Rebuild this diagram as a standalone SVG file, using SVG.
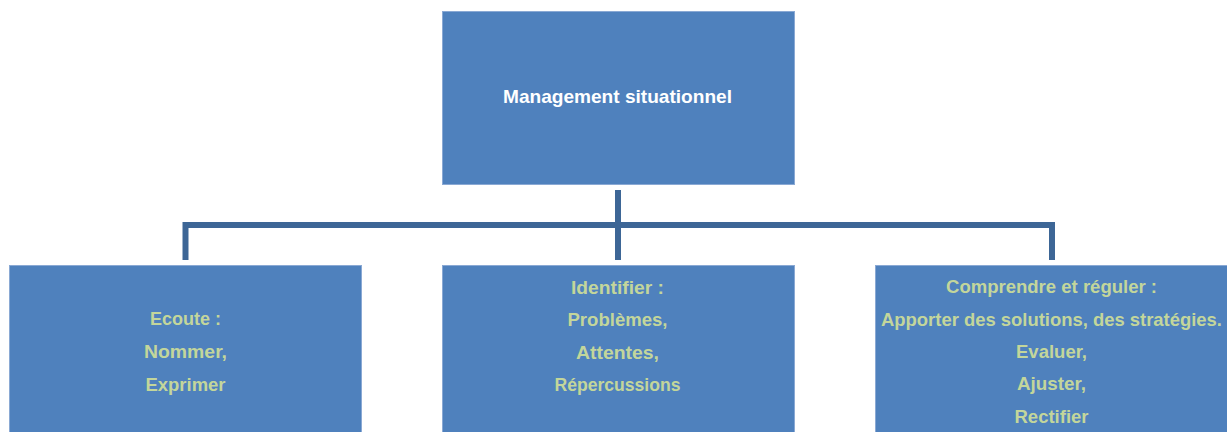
<svg xmlns="http://www.w3.org/2000/svg" width="1227" height="432" viewBox="0 0 1227 432">
<style>
.box{fill:#4F81BD;stroke:#8AA9D4;stroke-width:1}
.conn{stroke:#3D6696;stroke-width:6;fill:none}
.t{font-family:"Liberation Sans",Arial,sans-serif;font-weight:bold;font-size:18.5px;text-anchor:middle}
.w{fill:#FFFFFF}
.g{fill:#C3D69B}
</style>
<rect width="1227" height="432" fill="#FFFFFF"/>
<g id="connectors">
<line class="conn" x1="618" y1="190" x2="618" y2="260"/>
<line class="conn" x1="183" y1="225" x2="1055" y2="225"/>
<line class="conn" x1="185.5" y1="222" x2="185.5" y2="260"/>
<line class="conn" x1="1052" y1="222" x2="1052" y2="260"/>
</g>
<g id="node-top">
<rect class="box" x="442.5" y="11.5" width="352" height="173"/>
<text class="t w" x="617.5" y="103" textLength="229" lengthAdjust="spacingAndGlyphs">Management situationnel</text>
</g>
<g id="node-ecoute">
<rect class="box" x="9.5" y="265.5" width="352" height="180"/>
<text class="t g" x="185.5" y="325" textLength="71" lengthAdjust="spacingAndGlyphs">Ecoute :</text>
<text class="t g" x="185.5" y="358" textLength="83" lengthAdjust="spacingAndGlyphs">Nommer,</text>
<text class="t g" x="185.5" y="391" textLength="80" lengthAdjust="spacingAndGlyphs">Exprimer</text>
</g>
<g id="node-identifier">
<rect class="box" x="442.5" y="265.5" width="352" height="180"/>
<text class="t g" x="617.5" y="294" textLength="93" lengthAdjust="spacingAndGlyphs">Identifier :</text>
<text class="t g" x="617.5" y="326" textLength="100" lengthAdjust="spacingAndGlyphs">Problèmes,</text>
<text class="t g" x="617.5" y="359" textLength="83" lengthAdjust="spacingAndGlyphs">Attentes,</text>
<text class="t g" x="617.5" y="391" textLength="126" lengthAdjust="spacingAndGlyphs">Répercussions</text>
</g>
<g id="node-comprendre">
<rect class="box" x="875.5" y="265.5" width="360" height="180"/>
<text class="t g" x="1051.5" y="293" textLength="211" lengthAdjust="spacingAndGlyphs">Comprendre et réguler :</text>
<text class="t g" x="1051.5" y="326" textLength="341" lengthAdjust="spacingAndGlyphs">Apporter des solutions, des stratégies.</text>
<text class="t g" x="1051.5" y="358" textLength="71" lengthAdjust="spacingAndGlyphs">Evaluer,</text>
<text class="t g" x="1051.5" y="390" textLength="69" lengthAdjust="spacingAndGlyphs">Ajuster,</text>
<text class="t g" x="1051.5" y="423" textLength="74" lengthAdjust="spacingAndGlyphs">Rectifier</text>
</g>
</svg>
